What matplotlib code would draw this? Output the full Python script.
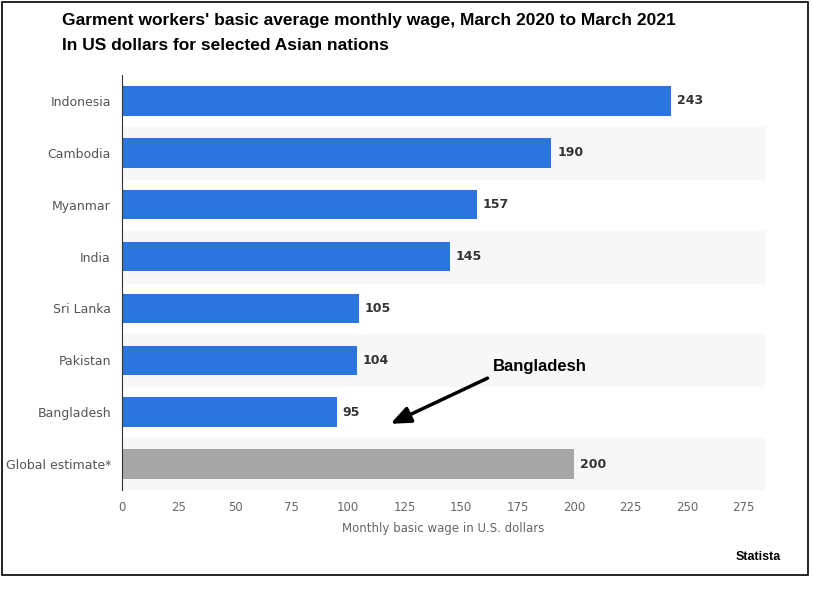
import matplotlib
matplotlib.use("Agg")
import matplotlib.pyplot as plt
from matplotlib.patches import Rectangle

countries = ["Indonesia", "Cambodia", "Myanmar", "India", "Sri Lanka", "Pakistan", "Bangladesh", "Global estimate*"]
wages = [243, 190, 157, 145, 105, 104, 95, 200]
xticks = list(range(0, 276, 25))

fig = plt.figure(figsize=(8.13, 5.96), dpi=100)
fig.patches.append(Rectangle((0.003, 0.035), 0.991, 0.962, transform=fig.transFigure,
                             fill=False, edgecolor="black", linewidth=1.2))
ax = fig.add_axes([122/813, 1-490/596, (765-122)/813, (490-75)/596])
n = len(countries)
y = list(range(n))
for i in y:
    if i % 2 == 1:
        ax.axhspan(i-0.5, i+0.5, color="#f7f7f7", zorder=0)
colors = ["#2a75de"]*(n-1) + ["#a6a6a6"]
ax.barh(y, wages, height=0.57, color=colors, zorder=2)
for i, v in zip(y, wages):
    ax.text(v+2.5, i, str(v), va="center", ha="left", fontsize=9, color="#333333", fontweight="bold")
ax.set_ylim(n-0.5, -0.5)
ax.set_xlim(0, 284.5)
ax.set_yticks(y)
ax.set_yticklabels(countries, fontsize=9, color="#555555")
ax.set_xticks(xticks)
ax.set_xticklabels([str(t) for t in xticks], fontsize=8.5, color="#666666")
ax.tick_params(length=0, pad=8)
for s in ["top", "right", "bottom"]:
    ax.spines[s].set_visible(False)
ax.spines["left"].set_color("#333333")
ax.set_xlabel("Monthly basic wage in U.S. dollars", fontsize=8.5, color="#666666", labelpad=6)

fig.text(62/813, 1-20/596, "Garment workers' basic average monthly wage, March 2020 to March 2021",
         fontsize=12.5, fontweight="bold", family="Liberation Sans", va="center")
fig.text(62/813, 1-45/596, "In US dollars for selected Asian nations",
         fontsize=12.5, fontweight="bold", family="Liberation Sans", va="center")
fig.text(493/813, 1-367/596, "Bangladesh", fontsize=12, fontweight="bold", family="Liberation Sans", va="center")
ax.annotate("", xy=(388/813, 1-425/596), xytext=(490/813, 1-377/596),
            xycoords="figure fraction", textcoords="figure fraction",
            arrowprops=dict(arrowstyle="-|>,head_length=1.2,head_width=0.5", color="black", lw=2.5))
fig.text(781/813, 1-557/596, "Statista", fontsize=9, fontweight="bold", family="Liberation Sans",
         ha="right", va="center")
fig.savefig("out.png", dpi=100)
